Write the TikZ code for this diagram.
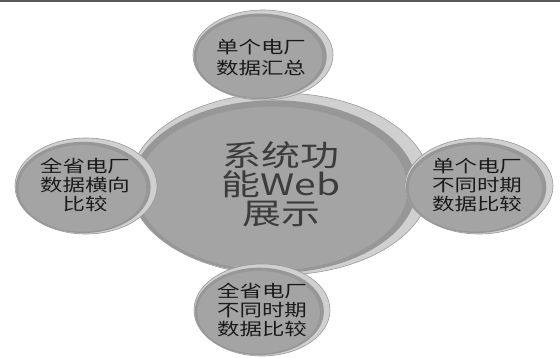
\documentclass[tikz,border=0pt]{standalone}
\usepackage{fontspec}
\newfontfamily\cjk[FakeStretch=1.32]{Noto Sans CJK SC}
\definecolor{topline}{HTML}{5A5A5A}
\definecolor{rimlight}{HTML}{D0D0D0}
\definecolor{bodygray}{HTML}{A4A4A4}
\definecolor{edgegray}{HTML}{9A9A9A}
\definecolor{shadowgray}{HTML}{979797}
\definecolor{txt}{HTML}{1A1A1A}
\tikzset{
  bubblerim/.style={fill=rimlight},
  bubblebody/.style={fill=bodygray},
  bubbleedge/.style={draw=edgegray, line width=0.6pt},
  smalltxt/.style={inner sep=0pt, align=center, text=txt, font=\cjk\fontsize{17}{19}\selectfont},
  bigtxt/.style={inner sep=0pt, align=center, text=txt!85!white, font=\cjk\fontsize{29.5}{29}\selectfont},
}
\newcommand\mybubble[4]{%
  \fill[bubblerim] (#1,#2) ellipse [x radius=#3 pt, y radius=#4 pt];
  \fill[shadowgray] ({#1-0.04*#3},{#2+0.03*#4}) ellipse [x radius=0.95*#3 pt, y radius=0.95*#4 pt];
  \fill[bubblebody] ({#1-0.05*#3},{#2+0.05*#4}) ellipse [x radius=0.9*#3 pt, y radius=0.9*#4 pt];
  \draw[bubbleedge] (#1,#2) ellipse [x radius=#3 pt, y radius=#4 pt];
}
\begin{document}
\begin{tikzpicture}[x=1pt,y=-1pt]
\useasboundingbox (0,0) rectangle (560,357);
\fill[white] (0,0) rectangle (560,357);
\draw[line width=2pt, topline] (0,1) -- (560,1);
% central bubble
\mybubble{280}{184}{150}{91}
% satellites
\mybubble{263}{55}{70}{45}
\mybubble{86}{186}{71}{48}
\mybubble{479}{186}{74}{48}
\mybubble{262}{310}{68}{46}
% texts
\node[bigtxt] (center) at (281,184) {系统功\\能Web\\展示};
\node[smalltxt] (top) at (261,58) {单个电厂\\[2pt]数据汇总};
\node[smalltxt] (left) at (85,185) {全省电厂\\数据横向\\比较};
\node[smalltxt] (right) at (477,185) {单个电厂\\不同时期\\数据比较};
\node[smalltxt] (bottom) at (262,310) {全省电厂\\不同时期\\数据比较};
\end{tikzpicture}
\end{document}
